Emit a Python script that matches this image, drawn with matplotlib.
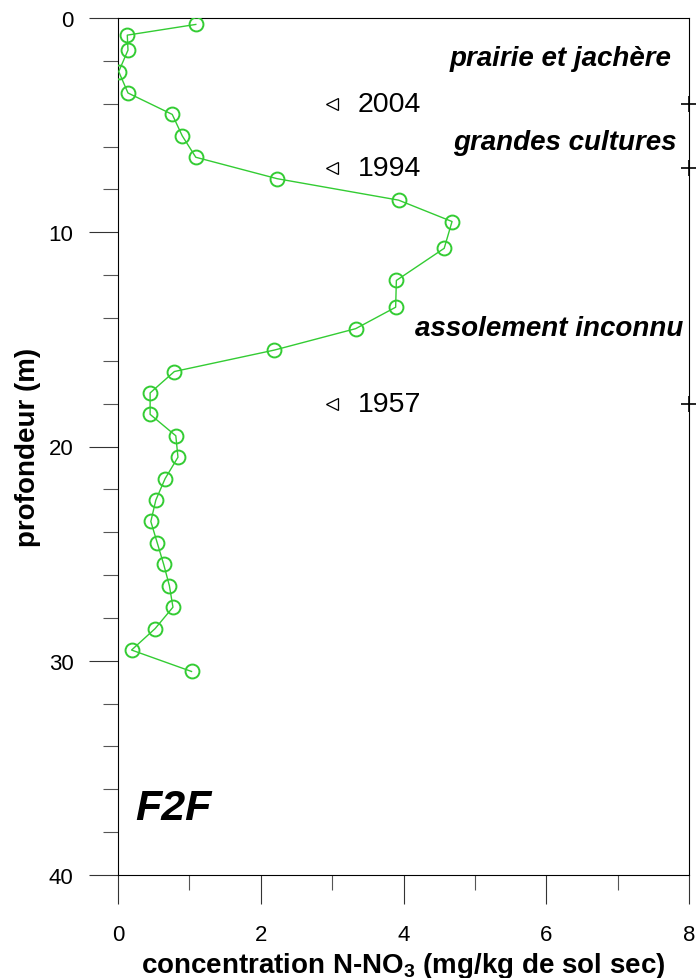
import matplotlib
matplotlib.use("Agg")
import matplotlib.pyplot as plt
from matplotlib.ticker import MultipleLocator

plt.rcParams['font.family'] = ['Liberation Sans', 'DejaVu Sans']
plt.rcParams['mathtext.fontset'] = 'custom'
plt.rcParams['mathtext.rm'] = 'Liberation Sans:bold'
plt.rcParams['mathtext.bf'] = 'Liberation Sans:bold'

# profil F2F : profondeur (m) / concentration N-NO3 (mg/kg de sol sec)
depth = [0.3, 0.8, 1.5, 2.5, 3.5, 4.5, 5.5, 6.5, 7.5, 8.5, 9.5, 10.75, 12.25,
         13.5, 14.5, 15.5, 16.5, 17.5, 18.5, 19.5, 20.5, 21.5, 22.5, 23.5,
         24.5, 25.5, 26.5, 27.5, 28.5, 29.5, 30.5]
no3 = [1.09, 0.13, 0.14, 0.01, 0.14, 0.76, 0.90, 1.09, 2.23, 3.93, 4.68, 4.57,
       3.90, 3.89, 3.33, 2.19, 0.79, 0.45, 0.45, 0.81, 0.84, 0.66, 0.53, 0.46,
       0.55, 0.64, 0.72, 0.77, 0.52, 0.19, 1.03]

# dates (profondeur du front)
years = ['2004', '1994', '1957']
year_depth = [4, 7, 18]

# assolements
periods = ['prairie et jachère', 'grandes cultures', 'assolement inconnu']
period_depth = [1.85, 5.8, 14.45]
period_x = [7.75, 7.83, 7.92]

green = '#33cc33'

fig = plt.figure(figsize=(6.96, 9.79), dpi=100)
ax = fig.add_axes([118/696, 1 - 876/979, 571/696, 857/979])

ax.plot(no3, depth, color=green, lw=1, marker='o', ms=10, mfc='none',
        mec=green, mew=1.4, zorder=3)

ax.set_xlim(0, 8)
ax.set_ylim(40, 0)

ax.xaxis.set_major_locator(MultipleLocator(2))
ax.xaxis.set_minor_locator(MultipleLocator(1))
ax.yaxis.set_major_locator(MultipleLocator(10))
ax.yaxis.set_minor_locator(MultipleLocator(2))
ax.tick_params(which='major', length=21, width=0.8, color='#333333',
               labelsize=16, pad=11)
ax.tick_params(which='minor', length=11, width=0.8, color='#555555')
ax.tick_params(axis='x', which='major', pad=14)

for s in ax.spines.values():
    s.set_linewidth(0.8)

# repères des dates
for yr, d in zip(years, year_depth):
    ax.plot(3.0, d, marker='<', ms=8, mfc='none', mec='black', mew=0.9)
    ax.text(3.36, d, yr, fontsize=20.5, va='center', ha='left')
    ax.plot(8, d, marker='+', ms=12, mew=1.2, color='black', clip_on=False)

for txt, d, x in zip(periods, period_depth, period_x):
    ax.text(x, d, txt, fontsize=20, fontweight='bold', style='italic',
            ha='right', va='center')

ax.text(0.24, 37.4, 'F2F', fontsize=31, fontweight='bold', style='italic',
        ha='left', va='baseline')

ax.set_ylabel('profondeur (m)', fontsize=20, fontweight='bold')
ax.yaxis.set_label_coords(-0.135, 0.5)
ax.set_xlabel('concentration N-NO$_3$ (mg/kg de sol sec)', fontsize=20,
              fontweight='bold')
ax.xaxis.set_label_coords(0.5, -0.087)

fig.savefig('out.png', dpi=100)
